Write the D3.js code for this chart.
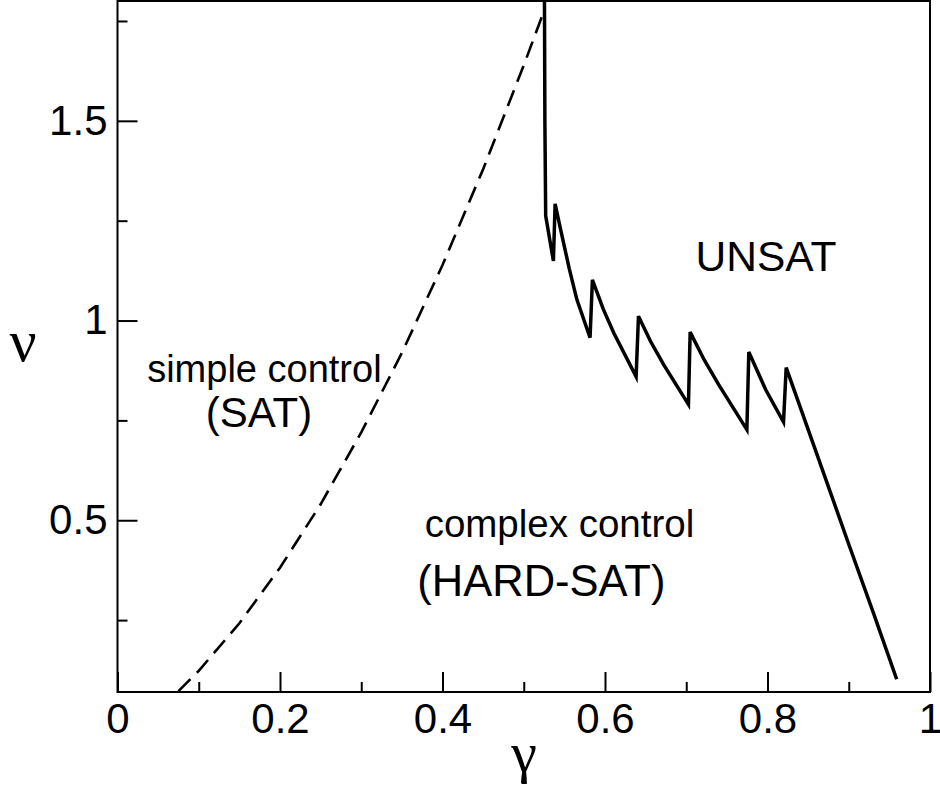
<!DOCTYPE html>
<html>
<head>
<meta charset="utf-8">
<script src="https://cdn.jsdelivr.net/npm/d3@7"></script>
<style>
  html, body { margin: 0; padding: 0; background: #fff; }
  svg { display: block; }
</style>
</head>
<body>
<div id="chart"></div>
<script>
// ---- data ----
const dashedGamma = [0.075, 0.10, 0.15, 0.20, 0.25, 0.30, 0.35, 0.40, 0.45, 0.50, 0.524];
const dashedNu    = [0.072, 0.123, 0.242, 0.381, 0.540, 0.720, 0.919, 1.139, 1.379, 1.639, 1.77];

const solidGamma = [0.5255, 0.526, 0.527, 0.5365, 0.5386, 0.546, 0.556, 0.5653, 0.5816, 0.5845, 0.598, 0.611, 0.6383,
                    0.6412, 0.656, 0.672, 0.7027, 0.7048, 0.722, 0.7397, 0.7746, 0.777, 0.798, 0.8197, 0.823,
                    0.86, 0.90, 0.93, 0.959];
const solidNu    = [1.80, 1.50, 1.262, 1.149, 1.292, 1.222, 1.130, 1.053, 0.957, 1.102, 1.028, 0.968, 0.8595,
                    1.011, 0.948, 0.890, 0.790, 0.971, 0.902, 0.840, 0.727, 0.921, 0.826, 0.746, 0.882,
                    0.67, 0.44, 0.27, 0.102];

const xMajorTicks = [0, 0.2, 0.4, 0.6, 0.8, 1];
const xMajorLabels = ["0", "0.2", "0.4", "0.6", "0.8", "1"];
const xMinorTicks = [0.1, 0.3, 0.5, 0.7, 0.9];
const yMajorTicks = [0.5, 1, 1.5];
const yMajorLabels = ["0.5", "1", "1.5"];
const yMinorTicks = [0.25, 0.75, 1.25, 1.75];

const regionLabels = ["UNSAT", "simple control", "(SAT)", "complex control", "(HARD-SAT)"];
const regionGamma  = [0.7115, 0.0365, 0.1085, 0.378, 0.369];
const regionNu     = [1.123, 0.847, 0.733, 0.457, 0.31];
const xLabel = "\u03b3";
const yLabel = "\u03bd";

// ---- chart ----
const W = 940, H = 790;
const svg = d3.select("#chart").append("svg").attr("width", W).attr("height", H);
const font = "'Liberation Sans', Arial, Helvetica, sans-serif";

const x = d3.scaleLinear().domain([0, 1]).range([117.5, 930]);
const y = d3.scaleLinear().domain([0.07, 1.8]).range([692, 1]);

// frame
svg.append("rect")
  .attr("x", x(0)).attr("y", y(1.8))
  .attr("width", x(1) - x(0)).attr("height", y(0.07) - y(1.8))
  .attr("fill", "none").attr("stroke", "#000").attr("stroke-width", 2);

function styleAxis(g) {
  g.select(".domain").remove();
  g.selectAll(".tick line").attr("stroke", "#000").attr("stroke-width", 2);
  g.selectAll(".tick text").attr("fill", "#000").style("font-family", font).style("font-size", "42px");
}

svg.append("g").attr("transform", `translate(0,${y(0.07)})`)
  .call(d3.axisBottom(x).tickValues(xMajorTicks).tickSize(-20).tickPadding(11)
        .tickFormat((d, i) => xMajorLabels[i]))
  .call(styleAxis);
svg.append("g").attr("transform", `translate(0,${y(0.07)})`)
  .call(d3.axisBottom(x).tickValues(xMinorTicks).tickSize(-10).tickFormat(""))
  .call(styleAxis);

svg.append("g").attr("transform", `translate(${x(0)},0)`)
  .call(d3.axisLeft(y).tickValues(yMajorTicks).tickSize(-20).tickPadding(10)
        .tickFormat((d, i) => yMajorLabels[i]))
  .call(styleAxis);
svg.append("g").attr("transform", `translate(${x(0)},0)`)
  .call(d3.axisLeft(y).tickValues(yMinorTicks).tickSize(-10).tickFormat(""))
  .call(styleAxis);

// curves
const line = d3.line().x(d => x(d[0])).y(d => y(d[1]));
const dashed = dashedGamma.map((g, i) => [g, dashedNu[i]]);
const solid = solidGamma.map((g, i) => [g, solidNu[i]]);

svg.append("path").datum(dashed).attr("d", line)
  .attr("fill", "none").attr("stroke", "#000").attr("stroke-width", 2.6)
  .attr("stroke-dasharray", "17,9");
svg.append("path").datum(solid).attr("d", line)
  .attr("fill", "none").attr("stroke", "#000").attr("stroke-width", 3.5)
  .attr("stroke-linejoin", "miter");

// region labels
const sizes = [42.5, 38, 42, 38.5, 43.5];
regionLabels.forEach((t, i) => {
  svg.append("text").attr("x", x(regionGamma[i])).attr("y", y(regionNu[i]))
    .style("font-family", font).style("font-size", sizes[i] + "px").attr("fill", "#000")
    .text(t);
});

// axis titles (greek)
svg.append("text").attr("x", 524).attr("y", 772).attr("text-anchor", "middle")
  .style("font-family", "'Liberation Serif', 'DejaVu Serif', serif").style("font-size", "58px")
  .text(xLabel);
svg.append("text").attr("x", 23).attr("y", 361).attr("text-anchor", "middle")
  .style("font-family", "'Liberation Serif', 'DejaVu Serif', serif").style("font-size", "60px")
  .text(yLabel);
</script>
</body>
</html>
